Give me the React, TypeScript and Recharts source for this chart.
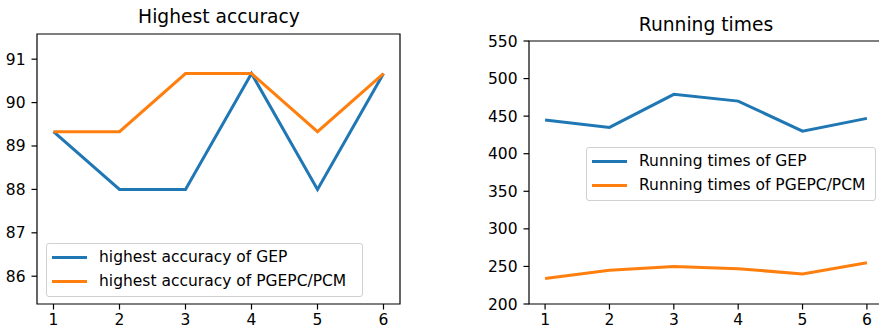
import { LineChart, Line, XAxis, YAxis, ReferenceArea } from 'recharts';

const xValues = [1, 2, 3, 4, 5, 6];
const accuracyGEP = [89.33, 88.0, 88.0, 90.67, 88.0, 90.67];
const accuracyPGEPC = [89.33, 89.33, 90.67, 90.67, 89.33, 90.67];
const timesGEP = [445, 435, 479, 470, 430, 447];
const timesPGEPC = [234, 245, 250, 247, 240, 255];
const accuracyTicks = [86, 87, 88, 89, 90, 91];
const timeTicks = [200, 250, 300, 350, 400, 450, 500, 550];

const BLUE = '#1f77b4';
const ORANGE = '#ff7f0e';
const FONT = '"DejaVu Sans", sans-serif';

const accuracyData = xValues.map((x, i) => ({ x, gep: accuracyGEP[i], pgepc: accuracyPGEPC[i] }));
const timeData = xValues.map((x, i) => ({ x, gep: timesGEP[i], pgepc: timesPGEPC[i] }));

const tickStyle = { fill: '#000', fontSize: 15.5, fontFamily: FONT };
const tickLine = { stroke: '#000', strokeWidth: 1.2 };

function LegendBox({ labels, width, left, top }: { labels: string[]; width: number; left: number; top: number }) {
  const colors = [BLUE, ORANGE];
  return (
    <div
      style={{
        position: 'absolute',
        left,
        top,
        width,
        boxSizing: 'border-box',
        border: '1px solid #d0d0d0',
        borderRadius: 3,
        background: 'rgba(255,255,255,0.8)',
        padding: '1px 0 3px 0',
        fontFamily: FONT,
        fontSize: 15.5,
        color: '#000',
      }}
    >
      {labels.map((l, i) => (
        <div key={l} style={{ display: 'flex', alignItems: 'center', height: 24 }}>
          <div style={{ width: 35, height: 3, background: colors[i], marginLeft: 5, marginRight: 12 }} />
          <span style={{ whiteSpace: 'nowrap' }}>{l}</span>
        </div>
      ))}
    </div>
  );
}

export default function App() {
  return (
    <div style={{ position: 'absolute', left: 0, top: 0, width: 879, height: 333, overflow: 'hidden', background: '#fff' }}>
      <div style={{ position: 'absolute', left: 0, top: 0 }}>
        <LineChart width={440} height={333} data={accuracyData} margin={{ top: 34, left: 0, right: 40, bottom: 0 }}>
          <XAxis
            dataKey="x"
            type="number"
            domain={[0.75, 6.25]}
            ticks={xValues}
            height={29}
            tick={tickStyle}
            tickSize={5.5}
            tickMargin={4}
            axisLine={false}
            tickLine={tickLine}
            allowDataOverflow
          />
          <YAxis
            type="number"
            domain={[85.36, 91.58]}
            ticks={accuracyTicks}
            width={37}
            tick={tickStyle}
            tickSize={5.5}
            tickMargin={6}
            axisLine={false}
            tickLine={tickLine}
            allowDataOverflow
          />
          <ReferenceArea x1={0.75} x2={6.25} y1={85.36} y2={91.58} fill="none" stroke="#000" strokeWidth={1.2} />
          <Line dataKey="gep" stroke={BLUE} strokeWidth={3} dot={false} isAnimationActive={false} />
          <Line dataKey="pgepc" stroke={ORANGE} strokeWidth={3} dot={false} isAnimationActive={false} />
        </LineChart>
      </div>

      <div style={{ position: 'absolute', left: 440, top: 0 }}>
        <LineChart width={460} height={333} data={timeData} margin={{ top: 41, left: 0, right: 17, bottom: 0 }}>
          <XAxis
            dataKey="x"
            type="number"
            domain={[0.75, 6.25]}
            ticks={xValues}
            height={29}
            tick={tickStyle}
            tickSize={5.5}
            tickMargin={4}
            axisLine={false}
            tickLine={tickLine}
            allowDataOverflow
          />
          <YAxis
            type="number"
            domain={[200, 550]}
            ticks={timeTicks}
            width={89}
            tick={tickStyle}
            tickSize={5.5}
            tickMargin={6}
            axisLine={false}
            tickLine={tickLine}
            allowDataOverflow
          />
          <ReferenceArea x1={0.75} x2={6.25} y1={200} y2={550} fill="none" stroke="#000" strokeWidth={1.2} />
          <Line dataKey="gep" stroke={BLUE} strokeWidth={3} dot={false} isAnimationActive={false} />
          <Line dataKey="pgepc" stroke={ORANGE} strokeWidth={3} dot={false} isAnimationActive={false} />
        </LineChart>
      </div>

      <div style={{ position: 'absolute', left: -1, top: 6, width: 440, textAlign: 'center', fontFamily: FONT, fontSize: 18.7, color: '#000' }}>
        Highest accuracy
      </div>
      <div style={{ position: 'absolute', left: 606, top: 14, width: 200, textAlign: 'center', fontFamily: FONT, fontSize: 18.7, color: '#000' }}>
        Running times
      </div>

      <LegendBox left={46} top={243} width={317} labels={['highest accuracy of GEP', 'highest accuracy of PGEPC/PCM']} />
      <LegendBox left={586} top={147} width={290} labels={['Running times of GEP', 'Running times of PGEPC/PCM']} />
    </div>
  );
}
